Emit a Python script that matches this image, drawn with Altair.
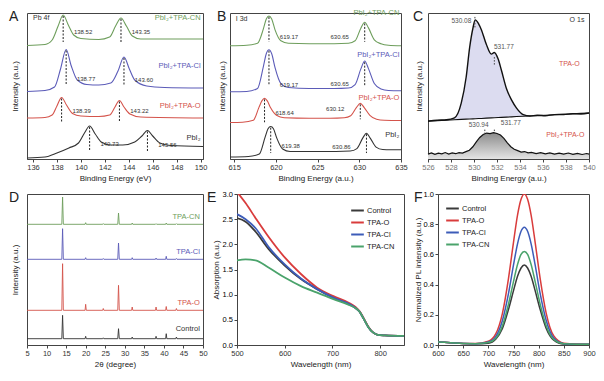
import altair as alt
import pandas as pd

FONT = "Liberation Sans"
GREEN = "#6e9e5c"
BLUE = "#5b5bb8"
RED = "#d4534b"
BLACK = "#333333"
DASH = "#222222"

# ---------------- Panel A : Pb 4f ----------------
A_names = ["PbI₂+TPA-CN", "PbI₂+TPA-Cl", "PbI₂+TPA-O", "PbI₂"]
A_colors = [GREEN, BLUE, RED, BLACK]
A_CN_x = [135.5, 137.0, 137.6, 138.1, 138.52, 138.95, 139.4, 140.0, 141.5, 142.4, 142.9, 143.35, 143.8, 144.3, 145.0, 150.2]
A_CN_y = [113.5, 114.5, 119, 133, 144, 134, 124, 120.5, 119.5, 122, 133, 141, 133, 123, 120, 120]
A_Cl_x = [135.5, 137.0, 137.8, 138.3, 138.77, 139.2, 139.7, 140.5, 141.5, 142.5, 143.1, 143.6, 144.05, 144.5, 145.5, 147.0, 150.2]
A_Cl_y = [67.5, 68.5, 72, 90, 109.5, 93, 79, 74.5, 74, 76, 88, 102, 90, 79, 73, 71.5, 71]
A_O_x = [135.5, 137.0, 137.6, 138.0, 138.39, 138.8, 139.3, 140.0, 141.5, 142.4, 142.85, 143.22, 143.6, 144.1, 145.0, 150.2]
A_O_y = [41, 41.5, 44, 53, 61.5, 54, 45.5, 43, 42.5, 44, 52, 58.5, 52, 45, 42, 41]
A_Pb_x = [135.5, 137.0, 138.0, 139.0, 139.8, 140.3, 140.73, 141.2, 141.7, 142.5, 143.5, 144.5, 145.1, 145.56, 146.0, 146.6, 147.5, 150.2]
A_Pb_y = [1, 2, 6, 11, 16, 26, 33, 25, 17, 14, 14, 17, 23, 28.5, 23, 16, 13.5, 12.5]
A_peaks = [138.52, 143.35, 138.77, 143.60, 138.39, 143.22, 140.73, 145.56]
A_peak_top = [143, 140, 108.5, 101, 60.5, 57.5, 32, 27.5]
A_peak_bot = [117, 117, 75, 74, 37, 37, 8, 8]
A_lab_y = [126.7, 126.7, 80, 79, 47.7, 47.7, 15, 14.3]
A_name_y = [141, 92.7, 52.7, 21]
A_ticks = [136, 138, 140, 142, 144, 146, 148, 150]

# ---------------- Panel B : I 3d ----------------
B_x = [614.5, 616.5, 617.8, 618.5, 618.85, 619.17, 619.5, 619.9, 620.6, 621.5, 624.0, 627.0, 628.7, 629.5, 630.2, 630.65, 631.1, 631.8, 632.6, 633.5, 635.0]
B_CN_y = [114, 114.5, 116.5, 131, 141, 144, 141, 130, 119, 116.5, 116, 116, 116.5, 119, 132, 137.7, 132, 120, 116, 114.5, 114]
B_Cl_y = [67.7, 68, 71, 93, 106, 110, 106, 92, 76, 72, 71, 71, 71.5, 75, 91, 98.7, 91, 76, 70.5, 69, 68.7]
B_O_x = [614.5, 616.0, 617.3, 617.97, 618.32, 618.64, 618.97, 619.37, 620.07, 621.0, 624.0, 626.5, 628.2, 628.97, 629.67, 630.12, 630.57, 631.27, 632.07, 633.0, 635.0]
B_O_y = [36.7, 37, 39, 52, 58.5, 61, 58.5, 51.5, 44, 41.5, 41, 41, 41.5, 43.5, 52, 56, 52, 44, 40, 39, 38.7]
B_Pb_x = [614.5, 616.7, 618.01, 618.71, 619.06, 619.38, 619.71, 620.11, 620.81, 621.7, 624.2, 627.2, 628.91, 629.71, 630.41, 630.86, 631.31, 632.01, 632.81, 633.7, 635.0]
B_Pb_y = [2, 2.5, 5, 22, 30.5, 32.7, 30.5, 21, 10, 7.5, 7.5, 7.5, 8, 10.5, 21, 26, 21, 12, 9.5, 9.3, 9.3]
B_peaks = [619.17, 630.65, 619.17, 630.65, 618.64, 630.12, 619.38, 630.86]
B_peak_top = [143, 136.5, 109, 97.5, 60, 55, 31.5, 25]
B_peak_bot = [118, 118, 74, 74, 37, 40, 6, 6]
B_lab_y = [122.7, 122.7, 74.3, 76, 46, 50, 13.3, 11.7]
B_name_y = [146.5, 104.3, 61.7, 24.3]
B_ticks = [615, 620, 625, 630, 635]

# ---------------- Panel C : O 1s ----------------
C_up_x = [526.0, 526.8, 527.6, 528.3, 528.89, 529.32, 529.62, 529.91, 530.1, 530.4, 530.64, 531.07, 531.51, 531.77, 532.1, 532.39, 532.82, 533.26, 533.7, 534.28, 534.86, 535.5, 536.2, 537.0, 537.8, 538.6, 539.3, 540.0]
C_up_y = [38.7, 39.6, 40.0, 42, 57, 83.7, 113.7, 133.7, 142, 138, 132, 117, 107, 108.7, 102, 90.3, 72, 60.3, 52, 45.3, 43.9, 44.6, 44.2, 45.3, 45.4, 46.3, 46.0, 47]
C_base_y = [38.7, 39.2, 39.6, 40.1, 40.4, 40.7, 40.8, 41.0, 41.1, 41.3, 41.4, 41.7, 42.0, 42.1, 42.3, 42.5, 42.7, 43.0, 43.3, 43.6, 43.9, 44.3, 44.7, 45.2, 45.6, 46.1, 46.6, 47.0]
C_low_x = [526.0, 526.3, 526.6, 526.9, 527.2, 527.5, 527.8, 528.1, 528.4, 528.7, 529.0, 529.3, 529.6, 529.9, 530.2, 530.5, 530.8, 531.1, 531.4, 531.7, 532.0, 532.3, 532.6, 532.9, 533.2, 533.5, 533.8, 534.1, 534.4, 534.7, 535.0, 535.4, 535.8, 536.2, 536.6, 537.0, 537.4, 537.8, 538.2, 538.6, 539.0, 539.4, 539.8, 540.0]
C_low_y = [5.0, 6.3, 4.8, 6.0, 5.2, 6.6, 5.0, 6.2, 5.4, 6.5, 6.0, 7.5, 9.0, 12.5, 17.5, 22.0, 25.0, 26.5, 26.0, 26.8, 26.0, 24.5, 21.0, 16.5, 12.5, 10.0, 8.5, 7.0, 7.6, 6.2, 6.8, 5.6, 6.5, 5.2, 6.2, 5.0, 6.0, 5.0, 6.1, 4.8, 5.8, 4.6, 5.6, 5.0]
C_marks = [530.08, 531.77, 530.94, 531.77]
C_mark_top = [145, 104, 30, 30]
C_mark_bot = [134, 96, 26, 26]
C_lab_x = [528.9, 532.6, 530.4, 533.2]
C_lab_y = [141.3, 114, 34.3, 36.3]
C_ticks = [526, 528, 530, 532, 534, 536, 538, 540]

# ---------------- Panel D : XRD ----------------
D_names = ["TPA-CN", "TPA-Cl", "TPA-O", "Control"]
D_colors = [GREEN, BLUE, RED, BLACK]
D_x = [5, 13.9, 14.1, 14.3, 19.85, 20.0, 20.15, 24.35, 24.5, 24.65, 28.2, 28.4, 28.6, 31.75, 31.9, 32.05, 37.85, 38.0, 38.15, 40.45, 40.6, 40.75, 43.05, 43.2, 43.35, 50]
D_CN_y = [120.7, 120.7, 148.0, 120.7, 120.7, 122.3, 120.7, 120.7, 121.4, 120.7, 120.7, 132.0, 120.7, 120.7, 122.0, 120.7, 120.7, 121.3, 120.7, 120.7, 122.0, 120.7, 120.7, 121.3, 120.7, 120.7]
D_Cl_y = [85.7, 85.7, 116.3, 85.7, 85.7, 87.3, 85.7, 85.7, 86.5, 85.7, 85.7, 102.0, 85.7, 85.7, 87.3, 85.7, 85.7, 87.0, 85.7, 85.7, 88.7, 85.7, 85.7, 86.5, 85.7, 85.7]
D_O_y = [34.7, 34.7, 81.3, 34.7, 34.7, 40.7, 34.7, 34.7, 36.5, 34.7, 34.7, 59.7, 34.7, 34.7, 38.0, 34.7, 34.7, 38.0, 34.7, 34.7, 38.5, 34.7, 34.7, 36.5, 34.7, 34.7]
D_ctrl_y = [6.3, 6.3, 29.7, 6.3, 6.3, 8.7, 6.3, 6.3, 7.2, 6.3, 6.3, 16.3, 6.3, 6.3, 8.0, 6.3, 6.3, 8.7, 6.3, 6.3, 11.3, 6.3, 6.3, 8.0, 6.3, 6.3]
D_name_y = [128, 93, 42, 15.7]
D_ticks = [5, 10, 15, 20, 25, 30, 35, 40, 45, 50]

# ---------------- Panel E : absorption ----------------
EF_names = ["Control", "TPA-O", "TPA-Cl", "TPA-CN"]
EF_colors = ["#3a3a3a", "#d93c3c", "#3d5cb8", "#4aa36b"]
E_x = [500, 518, 539, 566, 600, 634, 668, 702, 736, 749, 757, 765, 775, 785, 795, 810, 850]
E_ctrl = [2.52, 2.45, 2.25, 1.91, 1.58, 1.31, 1.11, 0.94, 0.80, 0.73, 0.66, 0.53, 0.36, 0.25, 0.20, 0.19, 0.18]
E_O = [3.04, 2.82, 2.52, 2.15, 1.74, 1.41, 1.14, 0.97, 0.83, 0.75, 0.67, 0.54, 0.37, 0.25, 0.20, 0.19, 0.18]
E_Cl = [2.60, 2.50, 2.32, 1.95, 1.60, 1.32, 1.11, 0.94, 0.81, 0.73, 0.66, 0.53, 0.36, 0.25, 0.20, 0.19, 0.18]
E_CN = [1.68, 1.70, 1.68, 1.54, 1.34, 1.17, 1.04, 0.91, 0.79, 0.73, 0.66, 0.53, 0.36, 0.25, 0.20, 0.19, 0.18]
E_xticks = [500, 600, 700, 800]
E_yticks = [0.0, 0.5, 1.0, 1.5, 2.0, 2.5, 3.0]

# ---------------- Panel F : PL ----------------
F_x = [600, 625, 650, 675, 700, 715, 728, 740, 750, 758, 765, 771.5, 778, 785, 793, 803, 815, 830, 850, 875, 900]
F_ctrl = [0.02, 0.015, 0.01, 0.008, 0.012, 0.04, 0.11, 0.235, 0.36, 0.455, 0.51, 0.53, 0.51, 0.455, 0.36, 0.235, 0.11, 0.032, 0.006, 0.004, 0.004]
F_O = [0.02, 0.015, 0.01, 0.01, 0.025, 0.075, 0.21, 0.44, 0.68, 0.86, 0.965, 1.0, 0.965, 0.86, 0.68, 0.44, 0.21, 0.06, 0.012, 0.006, 0.005]
F_Cl = [0.02, 0.015, 0.01, 0.009, 0.02, 0.057, 0.162, 0.34, 0.53, 0.67, 0.753, 0.78, 0.753, 0.67, 0.53, 0.34, 0.162, 0.046, 0.009, 0.005, 0.005]
F_CN = [0.02, 0.015, 0.01, 0.009, 0.016, 0.045, 0.128, 0.27, 0.42, 0.533, 0.6, 0.62, 0.6, 0.533, 0.42, 0.27, 0.128, 0.037, 0.008, 0.005, 0.005]
F_xticks = [600, 650, 700, 750, 800, 850, 900]
F_yticks = [0.0, 0.2, 0.4, 0.6, 0.8, 1.0]


# ---------------- helpers ----------------
def lines_df(names, colors, xs_list, ys_list):
    rows = []
    for n, c, xs, ys in zip(names, colors, xs_list, ys_list):
        for x, y in zip(xs, ys):
            rows.append({"s": n, "c": c, "x": x, "y": y})
    return pd.DataFrame(rows)


def x_axis(values, title, fmt="d", label_color="#333333"):
    return alt.Axis(values=values, title=title, format=fmt, tickSize=3, labelPadding=1.5,
                    titlePadding=3, grid=False, labelFlush=False, labelOverlap=False,
                    labelColor=label_color)


def y_blank(title, pad=8):
    return alt.Axis(labels=False, ticks=False, domain=False, title=title, titlePadding=pad, grid=False)


def letter(t, dx, dy=-3):
    return alt.Chart(pd.DataFrame({"t": [t]})).mark_text(
        align="left", baseline="top", fontSize=14, font=FONT, color="#222222"
    ).encode(x=alt.value(dx), y=alt.value(dy), text="t:N")


def legend(orient, offset):
    return alt.Legend(orient=orient, title=None, symbolType="stroke", symbolSize=160,
                      symbolStrokeWidth=2, labelFontSize=7.5, rowPadding=-2.5, offset=offset,
                      padding=1, labelOffset=2)


def xps_panel(df, peaks, tops, bots, lab_y, lab_first, lab_second, names, colors, name_y,
              name_x, title_text, title_x, xs, ys, ax, ay, w, h, let, let_dx, interp="monotone"):
    X = lambda f: alt.X(f, type="quantitative", scale=xs, axis=ax)
    Y = lambda f: alt.Y(f, type="quantitative", scale=ys, axis=ay)
    lines = alt.Chart(df).mark_line(interpolate=interp, strokeWidth=1.1, clip=True).encode(
        x=X("x"), y=Y("y"), color=alt.Color("c:N", scale=None), detail="s:N")
    pk = pd.DataFrame({"x": peaks, "top": tops, "bot": bots, "ly": lab_y,
                       "t": [f"{p:.2f}" for p in peaks], "i": list(range(len(peaks)))})
    dash = alt.Chart(pk).mark_rule(strokeDash=[2, 1.5], color=DASH, strokeWidth=1).encode(
        x=X("x"), y=Y("top"), y2=alt.Y2("bot"))
    layers = [lines, dash]
    first = pk[pk["i"] % 2 == 0].copy()
    second = pk[pk["i"] % 2 == 1].copy()
    first["lx"] = first["x"] + lab_first[0]
    second["lx"] = second["x"] + lab_second[0]
    layers.append(alt.Chart(first).mark_text(align=lab_first[1], baseline="middle", fontSize=6,
                                             font=FONT, color=BLACK).encode(
        x=X("lx"), y=Y("ly"), text="t:N"))
    layers.append(alt.Chart(second).mark_text(align=lab_second[1], baseline="middle", fontSize=6,
                                              font=FONT, color=BLACK).encode(
        x=X("lx"), y=Y("ly"), text="t:N"))
    nm = pd.DataFrame({"t": names, "c": colors, "y": name_y, "x": [name_x] * len(names)})
    layers.append(alt.Chart(nm).mark_text(align="right", baseline="middle", fontSize=7.5, font=FONT).encode(
        x=X("x"), y=Y("y"), text="t:N", color=alt.Color("c:N", scale=None)))
    tt = pd.DataFrame({"t": [title_text], "x": [title_x], "y": [141]})
    layers.append(alt.Chart(tt).mark_text(align="left", baseline="middle", fontSize=7, font=FONT,
                                          color=BLACK).encode(x=X("x"), y=Y("y"), text="t:N"))
    layers.append(letter(let, let_dx))
    return alt.layer(*layers).properties(width=w, height=h)


# ---------------- Panel A ----------------
dfA = lines_df(A_names, A_colors, [A_CN_x, A_Cl_x, A_O_x, A_Pb_x], [A_CN_y, A_Cl_y, A_O_y, A_Pb_y])
panelA = xps_panel(dfA, A_peaks, A_peak_top, A_peak_bot, A_lab_y, (0.9, "left"), (0.9, "left"),
                   A_names, A_colors, A_name_y, 150.0, "Pb 4f", 136.0,
                   alt.Scale(domain=[135.5, 150.2], nice=False, zero=False),
                   alt.Scale(domain=[0, 146], nice=False, zero=False),
                   x_axis(A_ticks, "Binding Energy (eV)"), y_blank("Intensity (a.u.)"),
                   176, 146, "A", -18)

# ---------------- Panel B ----------------
dfB = lines_df(A_names, A_colors, [B_x, B_x, B_O_x, B_Pb_x], [B_CN_y, B_Cl_y, B_O_y, B_Pb_y])
panelB = xps_panel(dfB, B_peaks, B_peak_top, B_peak_bot, B_lab_y, (1.3, "left"), (-1.9, "right"),
                   A_names, A_colors, B_name_y, 634.8, "I 3d", 615.2,
                   alt.Scale(domain=[614.5, 635], nice=False, zero=False),
                   alt.Scale(domain=[0, 147], nice=False, zero=False),
                   x_axis(B_ticks, "Binding Energy (a.u.)"), y_blank("Intensity (a.u.)", 4),
                   171, 146, "B", -13)

# ---------------- Panel C ----------------
xsC = alt.Scale(domain=[526, 540], nice=False, zero=False)
ysC = alt.Scale(domain=[0, 149], nice=False, zero=False)
axC = x_axis(C_ticks, "Binding Energy (a.u.)", label_color="#777777")
ayC = y_blank("Intensity (a.u.)", 5)
XC = lambda f: alt.X(f, type="quantitative", scale=xsC, axis=axC)
YC = lambda f: alt.Y(f, type="quantitative", scale=ysC, axis=ayC)
dfCu = pd.DataFrame({"x": C_up_x, "y": C_up_y, "b": C_base_y})
dfCl = pd.DataFrame({"x": C_low_x, "y": C_low_y})
grad = alt.Gradient(gradient="linear",
                    stops=[alt.GradientStop(color="#e4e4e4", offset=0),
                           alt.GradientStop(color="#8c8c8c", offset=1)],
                    x1=1, x2=1, y1=1, y2=0)
c_area_up = alt.Chart(dfCu).mark_area(color="#dcdcf0", interpolate="monotone").encode(
    x=XC("x"), y=YC("y"), y2=alt.Y2("b"))
c_line_up = alt.Chart(dfCu).mark_line(color="#111111", strokeWidth=1.4, interpolate="monotone").encode(
    x=XC("x"), y=YC("y"))
c_base = alt.Chart(dfCu).mark_line(color="#111111", strokeWidth=1.1).encode(x=XC("x"), y=YC("b"))
c_area_low = alt.Chart(dfCl).mark_area(color=grad).encode(x=XC("x"), y=YC("y"))
c_line_low = alt.Chart(dfCl).mark_line(color="#111111", strokeWidth=1.2).encode(x=XC("x"), y=YC("y"))
cm = pd.DataFrame({"x": C_marks, "top": C_mark_top, "bot": C_mark_bot, "lx": C_lab_x, "ly": C_lab_y,
                   "t": [f"{p:.2f}" for p in C_marks]})
c_dash = alt.Chart(cm).mark_rule(strokeDash=[1.5, 1.5], color="#444444", strokeWidth=1).encode(
    x=XC("x"), y=YC("top"), y2=alt.Y2("bot"))
c_vals = alt.Chart(cm).mark_text(align="center", baseline="middle", fontSize=6.5, font=FONT,
                                 color="#555555").encode(x=XC("lx"), y=YC("ly"), text="t:N")
ct = pd.DataFrame({"t": ["O 1s", "TPA-O", "PbI₂+TPA-O"], "x": [539.6, 539.2, 539.6], "y": [142, 97, 24],
                   "c": ["#333333", RED, RED]})
c_txt = alt.Chart(ct).mark_text(align="right", baseline="middle", fontSize=7, font=FONT).encode(
    x=XC("x"), y=YC("y"), text="t:N", color=alt.Color("c:N", scale=None))
panelC = alt.layer(c_area_up, c_area_low, c_base, c_line_up, c_line_low, c_dash, c_vals, c_txt,
                   letter("C", -15)).properties(width=161, height=146)

# ---------------- Panel D ----------------
xsD = alt.Scale(domain=[5, 50], nice=False, zero=False)
ysD = alt.Scale(domain=[0, 151], nice=False, zero=False)
axD = x_axis(D_ticks, "2θ (degree)")
ayD = y_blank("Intensity (a.u.)")
XD = lambda f: alt.X(f, type="quantitative", scale=xsD, axis=axD)
YD = lambda f: alt.Y(f, type="quantitative", scale=ysD, axis=ayD)
dfD = lines_df(D_names, D_colors, [D_x] * 4, [D_CN_y, D_Cl_y, D_O_y, D_ctrl_y])
d_lines = alt.Chart(dfD).mark_line(strokeWidth=0.9, clip=True).encode(
    x=XD("x"), y=YD("y"), color=alt.Color("c:N", scale=None), detail="s:N")
dn = pd.DataFrame({"t": D_names, "c": D_colors, "y": D_name_y, "x": [49.2] * 4})
d_txt = alt.Chart(dn).mark_text(align="right", baseline="middle", fontSize=7.5, font=FONT).encode(
    x=XD("x"), y=YD("y"), text="t:N", color=alt.Color("c:N", scale=None))
panelD = alt.layer(d_lines, d_txt, letter("D", -18)).properties(width=176, height=151)

# ---------------- Panel E ----------------
dfE = lines_df(EF_names, EF_colors, [E_x] * 4, [E_ctrl, E_O, E_Cl, E_CN])
e_lines = alt.Chart(dfE).mark_line(strokeWidth=1.8, clip=True, interpolate="monotone").encode(
    x=alt.X("x:Q", scale=alt.Scale(domain=[500, 850], nice=False, zero=False),
            axis=x_axis(E_xticks, "Wavelength (nm)")),
    y=alt.Y("y:Q", scale=alt.Scale(domain=[0, 3.0], nice=False),
            axis=alt.Axis(values=E_yticks, format=".1f", title="Absorption (a.u.)", tickSize=3,
                          labelPadding=1.5, titlePadding=2, grid=False)),
    color=alt.Color("s:N", scale=alt.Scale(domain=EF_names, range=EF_colors),
                    legend=legend("top-right", 8)),
)
panelE = alt.layer(e_lines, letter("E", -30)).properties(width=167, height=151)

# ---------------- Panel F ----------------
dfF = lines_df(EF_names, EF_colors, [F_x] * 4, [F_ctrl, F_O, F_Cl, F_CN])
f_lines = alt.Chart(dfF).mark_line(strokeWidth=1.5, clip=True, interpolate="monotone").encode(
    x=alt.X("x:Q", scale=alt.Scale(domain=[600, 900], nice=False, zero=False),
            axis=x_axis(F_xticks, "Wavelength (nm)")),
    y=alt.Y("y:Q", scale=alt.Scale(domain=[0, 1.0], nice=False),
            axis=alt.Axis(values=F_yticks, format=".1f", title="Normalized PL intensity (a.u.)",
                          tickSize=3, labelPadding=1.5, titlePadding=1, grid=False)),
    color=alt.Color("s:N", scale=alt.Scale(domain=EF_names, range=EF_colors),
                    legend=legend("top-left", 6)),
)
panelF = alt.layer(f_lines, letter("F", -24)).properties(width=151, height=151)

row1 = alt.hconcat(panelA, panelB, panelC, spacing=27, bounds="flush").resolve_scale(
    color="independent").resolve_legend(color="independent")
row2 = alt.hconcat(panelD, panelE, panelF, spacing=34, bounds="flush").resolve_scale(
    color="independent").resolve_legend(color="independent")

chart = alt.vconcat(row1, row2, spacing=6).resolve_scale(
    color="independent").resolve_legend(color="independent").properties(
    padding=0, background="white"
).configure_view(stroke="#444444", strokeWidth=1).configure_axis(
    labelFont=FONT, titleFont=FONT, labelFontSize=7.5, titleFontSize=8, titleFontWeight="normal",
    titleColor="#222222", domainColor="#444444", tickColor="#444444"
).configure_legend(labelFont=FONT, labelColor="#222222").configure_text(font=FONT)

chart.save("out.html", embed_options={"renderer": "svg", "actions": False})
